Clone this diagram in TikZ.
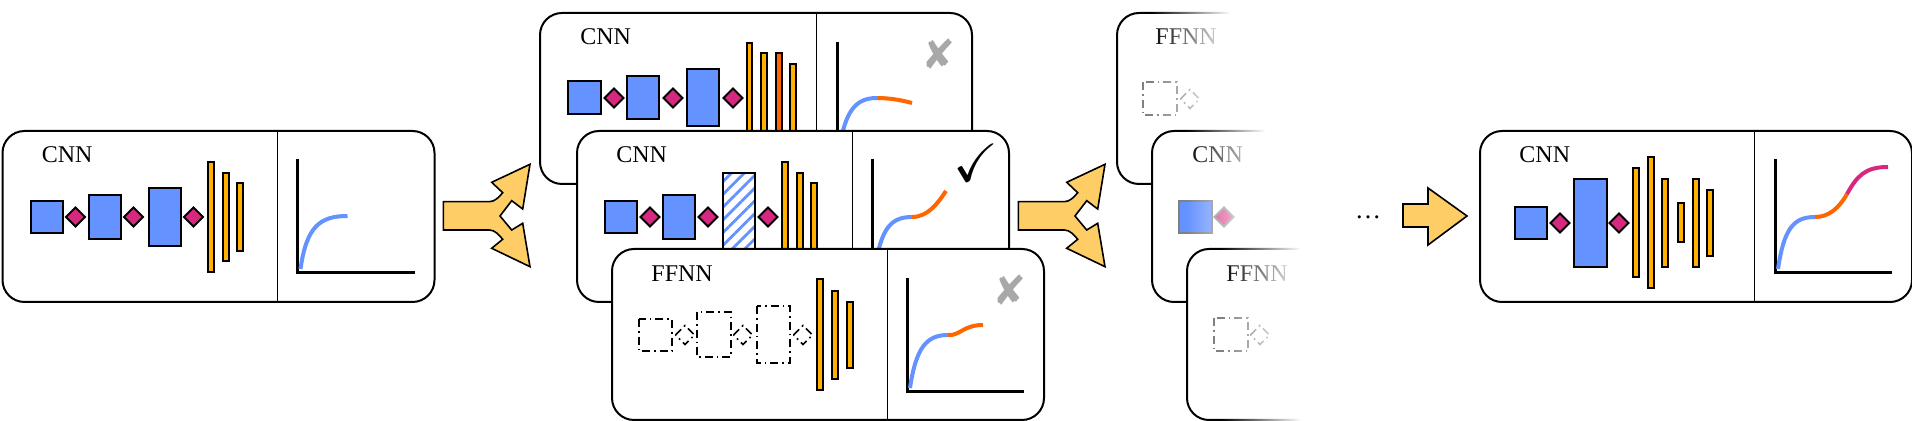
\documentclass[tikz,border=0pt]{standalone}
\usepackage{fontspec}
\setmainfont{Liberation Serif}
\usepackage{amssymb}
\usepackage{pifont}
\usetikzlibrary{patterns.meta,fadings}

\definecolor{boxblue}{RGB}{100,146,255}
\definecolor{dpink}{RGB}{214,40,127}
\definecolor{barorange}{RGB}{255,176,0}
\definecolor{redorange}{RGB}{255,102,0}
\definecolor{arrowyellow}{RGB}{255,205,102}
\definecolor{xgray}{RGB}{168,168,168}

\tikzfading[name=fadein, left color=transparent!100, right color=transparent!0]

\tikzset{
  panel/.style={draw=black, line width=1pt, fill=white, rounded corners=11pt, anchor=north west,
    minimum width=216pt, minimum height=85.5pt, inner sep=0pt},
  divider/.style={line width=0.5pt},
  conv/.style={draw=black, line width=1pt, fill=boxblue},
  act/.style={draw=black, line width=1pt, fill=dpink, line join=miter},
  dense/.style={draw=black, line width=1pt, fill=barorange},
  hotdense/.style={draw=black, line width=1pt, fill=redorange},
  hatched/.style={draw=black, line width=1pt,
    pattern={Lines[angle=45,distance=4.5pt,line width=1.4pt]}, pattern color=boxblue},
  axisline/.style={line width=1.5pt, draw=black},
  curveA/.style={line width=2pt, draw=boxblue},
  curveB/.style={line width=2pt, draw=redorange},
  curveC/.style={line width=2pt, draw=dpink},
  ghost/.style={draw=black, line width=0.8pt, dash pattern=on 4pt off 2pt on 0.8pt off 2pt},
  ghostgray/.style={ghost, draw=gray},
  ptext/.style={anchor=base west, font=\fontsize{12}{14}\selectfont, inner sep=0pt},
  bigarrow/.style={draw=black, line width=0.8pt, fill=arrowyellow, line join=miter},
  badmark/.style={text=xgray, font=\fontsize{21}{21}\selectfont, inner sep=0pt},
  goodmark/.style={font=\fontsize{27}{27}\selectfont, inner sep=0pt},
  fadeover/.style={white, path fading=fadein},
}

\newcommand{\mydiam}[3][act]{\draw[#1] (#2-9.5,#3) -- (#2,#3-9.5) -- (#2+9.5,#3) -- (#2,#3+9.5) -- cycle;}
\newcommand{\myaxes}{\draw[axisline] (296,29) -- (296,143) -- (413,143);}
\newcommand{\bluecurve}{\draw[curveA] (299,139) .. controls (305,98) and (315,87) .. (336,87);}
\newcommand{\fadeout}{\fill[fadeover] (35,-3) rectangle (115,175); \fill[white] (114,-3) rectangle (446,175);}

\begin{document}
\begin{tikzpicture}[x=0.5pt,y=-0.5pt]
\useasboundingbox (0,0) rectangle (1912,421);

% ---------- panel 1 ----------
\begin{scope}[shift={(1.5,130)}]
  \node[panel] (p1) at (0,0) {};
  \draw[divider] (276,0) -- (276,171);
  \node[ptext] (p1t) at (40,33) {CNN};
  \draw[conv] (29,71) rectangle (61,103);
  \mydiam{74}{87}
  \draw[conv] (87,65) rectangle (119,109);
  \mydiam{132}{87}
  \draw[conv] (147,58) rectangle (179,116);
  \mydiam{192}{87}
  \draw[dense] (206,32) rectangle (212,142);
  \draw[dense] (221,43) rectangle (227,131);
  \draw[dense] (235,53) rectangle (241,121);
  \myaxes
  \draw[curveA] (299,139) .. controls (305,97) and (318,86) .. (346,86);
\end{scope}

% ---------- split arrow 1 ----------
\draw[bigarrow] (443.3,201.7) -- (489.3,201.7) .. controls (495,201.7) and (499,197) .. (502.7,192.7)
  -- (491.7,182.3) -- (530,164.3) -- (522.7,209) -- (511.7,200.7) -- (500,216) -- (511.7,230)
  -- (522.7,223.3) -- (530,266.7) -- (491.7,248.3) -- (502.7,239.3)
  .. controls (499,235) and (495,230) .. (489.3,230) -- (443.3,230) -- cycle;

% ---------- middle stack: top (CNN, rejected) ----------
\begin{scope}[shift={(539,12)}]
  \node[panel] (p2) at (0,0) {};
  \draw[divider] (277,0) -- (277,171);
  \node[ptext] (p2t) at (41,33) {CNN};
  \draw[conv] (29,69) rectangle (62,102);
  \mydiam{75}{86}
  \draw[conv] (88,64) rectangle (120,107);
  \mydiam{134}{86}
  \draw[conv] (148,57) rectangle (180,114);
  \mydiam{194}{86}
  \draw[dense] (208,31) rectangle (213,143);
  \draw[dense] (222,41) rectangle (228,133);
  \draw[hotdense] (237,41) rectangle (243,133);
  \draw[dense] (251,52) rectangle (257,122);
  \draw[axisline] (298,30) -- (298,143) -- (415,143);
  \draw[curveA] (300,139) .. controls (306,98) and (317,86) .. (338,86);
  \draw[curveB] (338,86) .. controls (350,86) and (362,88) .. (373,91);
  \node[badmark] (x2) at (400,42) {\ding{56}};
\end{scope}

% ---------- middle stack: middle (CNN, accepted) ----------
\begin{scope}[shift={(576,130)}]
  \node[panel] (p3) at (0,0) {};
  \draw[divider] (276,0) -- (276,171);
  \node[ptext] (p3t) at (40,33) {CNN};
  \draw[conv] (29,71) rectangle (61,103);
  \mydiam{74}{87}
  \draw[conv] (87,65) rectangle (119,109);
  \mydiam{132}{87}
  \draw[hatched] (147,43) rectangle (179,131);
  \mydiam{192}{87}
  \draw[dense] (206,32) rectangle (212,142);
  \draw[dense] (221,43) rectangle (227,131);
  \draw[dense] (235,53) rectangle (241,121);
  \myaxes
  \bluecurve
  \draw[curveB] (336,87) .. controls (352,87) and (362,73) .. (370,61);
  \node[goodmark] (c3) at (400,33) {$\checkmark$};
\end{scope}

% ---------- middle stack: bottom (FFNN, rejected) ----------
\begin{scope}[shift={(611,248)}]
  \node[panel] (p4) at (0,0) {};
  \draw[divider] (276,0) -- (276,171);
  \node[ptext] (p4t) at (40,34) {FFNN};
  \draw[ghost] (28,71) rectangle (61,103);
  \mydiam[ghost]{74}{87}
  \draw[ghost] (86,64) rectangle (120,109);
  \mydiam[ghost]{132}{87}
  \draw[ghost] (146,58) rectangle (179,115);
  \mydiam[ghost]{192}{87}
  \draw[dense] (206,31) rectangle (212,142);
  \draw[dense] (221,43) rectangle (227,131);
  \draw[dense] (236,54) rectangle (242,120);
  \draw[axisline] (296,30) -- (296,144) -- (413,144);
  \draw[curveA] (299,140) .. controls (305,99) and (316,87) .. (337,87);
  \draw[curveB] (337,87) .. controls (349,88) and (352,77) .. (372,77);
  \node[badmark] (x4) at (399,42) {\ding{56}};
\end{scope}

% ---------- split arrow 2 ----------
\begin{scope}[shift={(575,0)}]
\draw[bigarrow] (443.3,201.7) -- (489.3,201.7) .. controls (495,201.7) and (499,197) .. (502.7,192.7)
  -- (491.7,182.3) -- (530,164.3) -- (522.7,209) -- (511.7,200.7) -- (500,216) -- (511.7,230)
  -- (522.7,223.3) -- (530,266.7) -- (491.7,248.3) -- (502.7,239.3)
  .. controls (499,235) and (495,230) .. (489.3,230) -- (443.3,230) -- cycle;
\end{scope}

% ---------- faded stack ----------
\begin{scope}[shift={(1116,12)}]
  \node[panel] (f1) at (0,0) {};
  \node[ptext] (f1t) at (39,33) {FFNN};
  \draw[ghostgray] (27,70) rectangle (61,103);
  \mydiam[ghostgray]{74}{87}
  \fadeout
\end{scope}
\begin{scope}[shift={(1151,130)}]
  \node[panel] (f2) at (0,0) {};
  \node[ptext] (f2t) at (41,33) {CNN};
  \draw[conv, draw=gray] (28,71) rectangle (61,103);
  \mydiam[act, draw=gray]{73}{87}
  \fadeout
\end{scope}
\begin{scope}[shift={(1186,248)}]
  \node[panel] (f3) at (0,0) {};
  \node[ptext] (f3t) at (40,34) {FFNN};
  \draw[ghostgray] (28,70) rectangle (62,103);
  \mydiam[ghostgray]{74}{87}
  \fadeout
\end{scope}

% ---------- dots and final arrow ----------
\node[anchor=base, font=\fontsize{13}{15}\selectfont, inner sep=0pt] (dots) at (1368,219) {\ldots};
\draw[bigarrow] (1403,204) -- (1428,204) -- (1428,188) -- (1467,216) -- (1428,245) -- (1428,227) -- (1403,227) -- cycle;

% ---------- final panel ----------
\begin{scope}[shift={(1479,130)}]
  \node[panel] (p5) at (0,0) {};
  \draw[divider] (275,0) -- (275,171);
  \node[ptext] (p5t) at (40,33) {CNN};
  \draw[conv] (36,77) rectangle (68,109);
  \mydiam{81}{93}
  \draw[conv] (95,49) rectangle (128,137);
  \mydiam{140}{93}
  \draw[dense] (154,38) rectangle (160,147);
  \draw[dense] (169,27) rectangle (175,158);
  \draw[dense] (183,49) rectangle (189,137);
  \draw[dense] (199,73) rectangle (205,112);
  \draw[dense] (214,49) rectangle (220,137);
  \draw[dense] (228,60) rectangle (234,126);
  \myaxes
  \bluecurve
  \draw[curveB] (336,87) .. controls (350,87) and (360,78) .. (368,64);
  \draw[curveC] (368,64) .. controls (378,46) and (386,37) .. (409,37);
\end{scope}
\end{tikzpicture}
\end{document}
